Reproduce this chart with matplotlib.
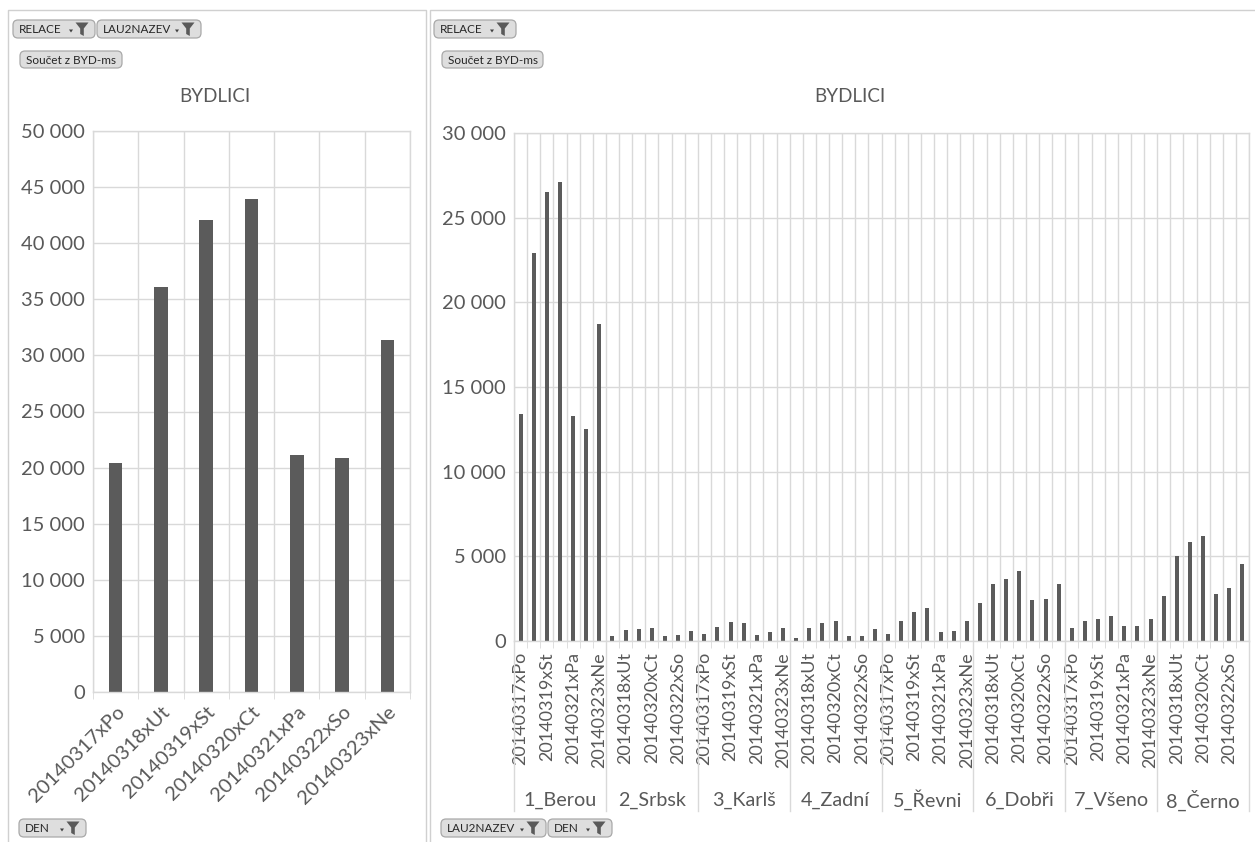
import matplotlib
matplotlib.use('Agg')
import matplotlib.pyplot as plt
import matplotlib.transforms as mtransforms
from matplotlib.patches import FancyBboxPatch, Polygon
from matplotlib.ticker import FuncFormatter, FixedLocator
import numpy as np

plt.rcParams['font.family'] = ['Lato', 'DejaVu Sans']

# ---------------- data ----------------
days = ["20140317xPo", "20140318xUt", "20140319xSt", "20140320xCt",
        "20140321xPa", "20140322xSo", "20140323xNe"]
regions = ["1_Berou", "2_Srbsk", "3_Karlš", "4_Zadní",
           "5_Řevni", "6_Dobři", "7_Všeno", "8_Černo"]
total_by_day = [20400, 36100, 42100, 43950, 21100, 20900, 31400]
berou = [13400, 22900, 26500, 27100, 13300, 12500, 18700]
srbsk = [270, 660, 720, 780, 270, 330, 590]
karls = [390, 850, 1100, 1040, 380, 520, 790]
zadni = [200, 790, 1040, 1160, 310, 320, 720]
revni = [400, 1180, 1690, 1960, 510, 590, 1180]
dobri = [2270, 3390, 3650, 4120, 2410, 2470, 3380]
vseno = [780, 1160, 1290, 1490, 900, 900, 1270]
cerno = [2670, 5000, 5840, 6180, 2780, 3120, 4550]
by_region = [berou, srbsk, karls, zadni, revni, dobri, vseno, cerno]

title = "BYDLICI"
left_yticks = list(range(0, 50001, 5000))
right_yticks = list(range(0, 30001, 5000))

# ---------------- style ----------------
W, H = 1255, 842
BAR = '#5b5b5b'
GRID = '#d9d9d9'
TXT = '#595959'

fig = plt.figure(figsize=(W / 100, H / 100), dpi=100)
fig.patch.set_facecolor('white')

# overlay axes in pixel coordinates for panel frames / pivot buttons
ov = fig.add_axes([0, 0, 1, 1], zorder=0)
ov.set_xlim(0, W)
ov.set_ylim(H, 0)
ov.axis('off')
ov.patch.set_alpha(0)

ov.plot([8, 8, 426, 426], [H + 2, 10, 10, H + 2], color='#d0d0d0', lw=1)
ov.plot([430, 430, W + 2], [H + 2, 10, 10], color='#d0d0d0', lw=1)


def button(x0, y0, x1, y1, label, funnel=True):
    p = FancyBboxPatch((x0, y0), x1 - x0, y1 - y0,
                       boxstyle="round,pad=0,rounding_size=5",
                       fc='#dedede', ec='#a9a9a9', lw=0.9)
    ov.add_patch(p)
    cy = (y0 + y1) / 2
    ov.text(x0 + 6, cy + 0.5, label, fontsize=8.5, color='#262626',
            ha='left', va='center', family=['Lato', 'DejaVu Sans'])
    if funnel:
        cx = x1 - 13
        ov.add_patch(Polygon([(cx - 6.5, cy - 6.5), (cx + 6.5, cy - 6.5), (cx + 1.8, cy - 0.5),
                              (cx + 1.8, cy + 7), (cx - 1.8, cy + 5), (cx - 1.8, cy - 0.5)],
                             closed=True, fc='#5a5a5a', ec='none'))
        ov.add_patch(Polygon([(cx - 13, cy + 0.5), (cx - 9, cy + 0.5), (cx - 11, cy + 3.5)],
                             closed=True, fc='#404040', ec='none'))


button(13, 20, 95, 38, "RELACE")
button(97, 20, 201, 38, "LAU2NAZEV")
button(20, 51, 122, 68, "Součet z BYD-ms", funnel=False)
button(434, 20, 516, 38, "RELACE")
button(442, 51, 543, 68, "Součet z BYD-ms", funnel=False)
button(19, 819, 86, 837, "DEN")
button(441, 819, 546, 837, "LAU2NAZEV")
button(548, 819, 612, 837, "DEN")

fmt = FuncFormatter(lambda v, p: f"{int(v):,}".replace(",", " "))


def style(ax, xsize):
    for s in ax.spines.values():
        s.set_color(GRID)
        s.set_linewidth(1)
    ax.grid(axis='y', which='major', color=GRID, lw=1)
    ax.grid(axis='x', which='minor', color=GRID, lw=1)
    ax.set_axisbelow(True)
    ax.yaxis.set_major_formatter(fmt)
    ax.tick_params(axis='y', length=0, pad=6, labelsize=14.5, labelcolor=TXT)
    ax.tick_params(axis='x', which='major', length=0, labelcolor=TXT, labelsize=xsize)
    ax.tick_params(axis='x', which='minor', length=5, color=GRID, direction='out')


# ---------------- left chart ----------------
axl = fig.add_axes([93 / W, 1 - 692 / H, 317 / W, 561 / H], zorder=2)
xl = np.arange(len(days))
axl.bar(xl, total_by_day, width=0.3, color=BAR)
axl.set_xlim(-0.5, len(days) - 0.5)
axl.set_ylim(0, 50000)
axl.set_yticks(left_yticks)
axl.xaxis.set_minor_locator(FixedLocator(np.arange(-0.5, len(days), 1)))
style(axl, 14.5)
axl.set_xticks(xl)
axl.set_xticklabels(days, rotation=45, ha='right', va='top', rotation_mode='anchor')
axl.tick_params(axis='x', which='major', pad=8)
fig.text(215 / W, 1 - 97 / H, title, ha='center', va='center', fontsize=13.5, color=TXT)

# ---------------- right chart ----------------
axr = fig.add_axes([514 / W, 1 - 641 / H, 735 / W, 508 / H], zorder=2)
vals = [v for reg in by_region for v in reg]
xr = np.arange(len(vals))
axr.bar(xr, vals, width=0.3, color=BAR)
axr.set_xlim(-0.5, len(vals) - 0.5)
axr.set_ylim(0, 30000)
axr.set_yticks(right_yticks)
axr.xaxis.set_minor_locator(FixedLocator(np.arange(-0.5, len(vals), 1)))
style(axr, 13)
axr.set_xticks(xr[::2])
axr.set_xticklabels([days[i % len(days)] for i in xr[::2]], rotation=90,
                    ha='center', va='top')
axr.tick_params(axis='x', which='major', pad=8)
trans = mtransforms.blended_transform_factory(axr.transData, axr.transAxes)
nd = len(days)
for g, name in enumerate(regions):
    axr.text(g * nd + (nd - 1) / 2, -0.313, name, transform=trans, ha='center',
             va='center', fontsize=14.2, color=TXT, clip_on=False)
for b in np.arange(-0.5, len(vals), nd):
    axr.plot([b, b], [0, -0.335], transform=trans, color=GRID, lw=1, clip_on=False)
fig.text(850 / W, 1 - 97 / H, title, ha='center', va='center', fontsize=13.5, color=TXT)

fig.savefig('out.png', dpi=100, facecolor='white')
